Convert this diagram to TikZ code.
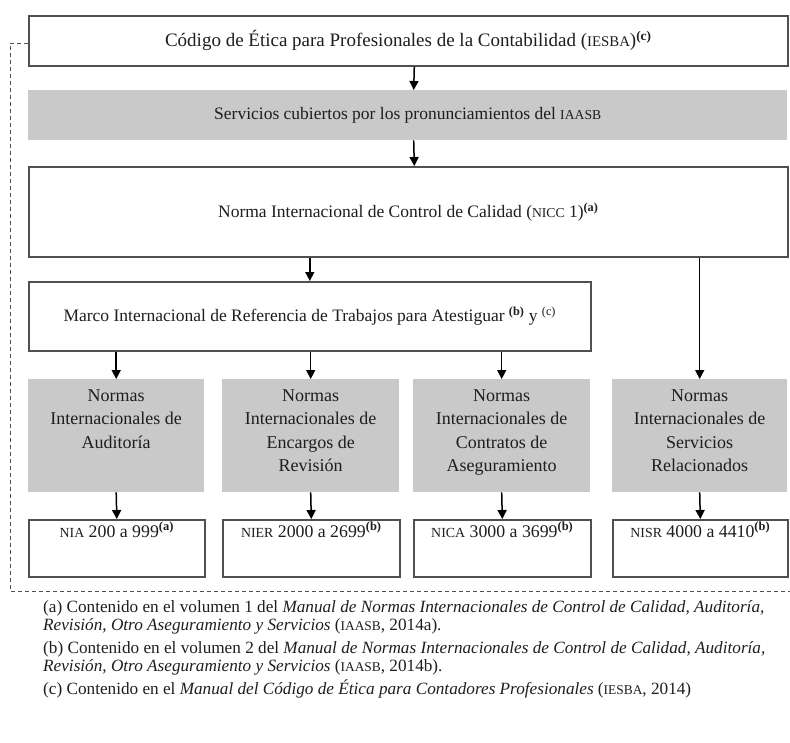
\documentclass[tikz,border=0pt]{standalone}
\usepackage{fontspec}
\usepackage{graphicx}
\setmainfont{Liberation Serif}
\usetikzlibrary{arrows.meta}
\definecolor{boxgray}{RGB}{201,201,201}
\definecolor{edgecol}{RGB}{80,80,80}
\definecolor{ink}{RGB}{30,30,30}
\newcommand\smcap[1]{\scalebox{0.78}{#1}}
\newcommand\supl[1]{\textsuperscript{\bfseries(#1)}}
\begin{document}
\begin{tikzpicture}[x=1pt,y=-1pt,
  every node/.style={text=ink},
  whitebox/.style={draw=edgecol, line width=1.6pt, fill=white, inner sep=0pt, anchor=north west, font=\fontsize{17.5}{20}\selectfont},
  graybox/.style={fill=boxgray, draw=none, inner sep=0pt, anchor=north west},
  stacktext/.style={align=center, inner sep=0pt, anchor=north, font=\fontsize{18}{23.5}\selectfont},
  numtext/.style={inner sep=0pt, anchor=base, font=\fontsize{17.8}{20}\selectfont},
  arr/.style={line width=1.5pt, draw=black, -{Triangle[length=9pt,width=9pt]}},
  dashline/.style={line width=1pt, draw=edgecol, dash pattern=on 4pt off 3pt},
  foot/.style={anchor=base west, inner sep=0pt, font=\fontsize{17.2}{18}\selectfont}
]
\useasboundingbox (0,0) rectangle (790,742);

% top chain
\node[whitebox, minimum width=759pt, minimum height=50pt, font=\fontsize{19}{21}\selectfont] (etica) at (28,15)
  {C\'odigo de \'Etica para Profesionales de la Contabilidad (\smcap{IESBA})\supl{c}};
\node[graybox, minimum width=759pt, minimum height=50pt, font=\fontsize{17.5}{20}\selectfont] (serv) at (28,90)
  {Servicios cubiertos por los pronunciamientos del \smcap{IAASB}};
\node[whitebox, minimum width=759pt, minimum height=90pt] (nicc) at (28,166)
  {Norma Internacional de Control de Calidad (\smcap{NICC} 1)\supl{a}};
\node[whitebox, minimum width=562pt, minimum height=69pt] (marco) at (28,281)
  {Marco Internacional de Referencia de Trabajos para Atestiguar \supl{b} y \textsuperscript{(c)}};

% gray standard boxes
\node[graybox, minimum width=176pt, minimum height=113pt] (g1) at (28,379) {};
\node[graybox, minimum width=177pt, minimum height=113pt] (g2) at (222,379) {};
\node[graybox, minimum width=177pt, minimum height=113pt] (g3) at (413,379) {};
\node[graybox, minimum width=175pt, minimum height=113pt] (g4) at (612,379) {};
\node[stacktext] (g1t) at ([yshift=-10.5pt]g1.north) {Normas\\Internacionales de\\Auditor\'ia};
\node[stacktext] (g2t) at ([yshift=-10.5pt]g2.north) {Normas\\Internacionales de\\Encargos de\\Revisi\'on};
\node[stacktext] (g3t) at ([yshift=-10.5pt]g3.north) {Normas\\Internacionales de\\Contratos de\\Aseguramiento};
\node[stacktext] (g4t) at ([yshift=-10.5pt]g4.north) {Normas\\Internacionales de\\Servicios\\Relacionados};

% bottom number boxes
\node[whitebox, minimum width=176pt, minimum height=57pt] (n1) at (28,519) {};
\node[whitebox, minimum width=177pt, minimum height=57pt] (n2) at (222,519) {};
\node[whitebox, minimum width=177pt, minimum height=57pt] (n3) at (413,519) {};
\node[whitebox, minimum width=175pt, minimum height=57pt] (n4) at (612,519) {};
\node[numtext] (n1t) at ([yshift=-18pt]n1.north) {\smcap{NIA} 200 a 999\supl{a}};
\node[numtext] (n2t) at ([yshift=-18pt]n2.north) {\smcap{NIER} 2000 a 2699\supl{b}};
\node[numtext] (n3t) at ([yshift=-18pt]n3.north) {\smcap{NICA} 3000 a 3699\supl{b}};
\node[numtext] (n4t) at ([yshift=-18pt]n4.north) {\smcap{NISR} 4000 a 4410\supl{b}};

% arrows
\draw[arr] ([xshift=6pt]etica.south) -- ([xshift=6pt]serv.north);
\draw[arr] ([xshift=6pt]serv.south) -- ([xshift=6pt]nicc.north);
\draw[arr] (nicc.south -| marco.north) -- (marco.north);
\draw[arr] (nicc.south -| g4.north) -- (g4.north);
\draw[arr] (marco.south -| g1.north) -- (g1.north);
\draw[arr] (marco.south -| g2.north) -- (g2.north);
\draw[arr] (marco.south -| g3.north) -- (g3.north);
\draw[arr] (g1.south) -- (n1.north);
\draw[arr] (g2.south) -- (n2.north);
\draw[arr] (g3.south) -- (n3.north);
\draw[arr] (g4.south) -- (n4.north);

% dashed frame
\coordinate (dcorner) at (10,43);
\coordinate (dbottom) at (10,591);
\coordinate (dend) at (790,591);
\draw[dashline] (etica.west |- dcorner) -- (dcorner) -- (dbottom) -- (dend);

% footnotes
\node[foot] (fa1) at (43,612) {(a) Contenido en el volumen 1 del \textit{Manual de Normas Internacionales de Control de Calidad, Auditor\'ia,}};
\node[foot] (fa2) at (43,630) {\textit{Revisi\'on, Otro Aseguramiento y Servicios} (\smcap{IAASB}, 2014a).};
\node[foot] (fb1) at (43,653) {(b) Contenido en el volumen 2 del \textit{Manual de Normas Internacionales de Control de Calidad, Auditor\'ia,}};
\node[foot] (fb2) at (43,671) {\textit{Revisi\'on, Otro Aseguramiento y Servicios} (\smcap{IAASB}, 2014b).};
\node[foot] (fc1) at (43,694) {(c) Contenido en el \textit{Manual del C\'odigo de \'Etica para Contadores Profesionales} (\smcap{IESBA}, 2014)};
\end{tikzpicture}
\end{document}
